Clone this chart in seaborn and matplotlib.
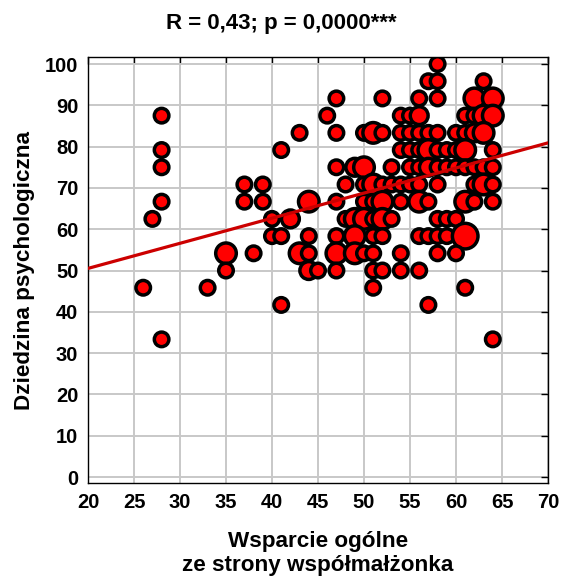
import matplotlib
matplotlib.use("Agg")
import matplotlib.pyplot as plt
import pandas as pd
import seaborn as sns

# Spousal general support (x), psychological domain score (y), number of respondents (n)
support = [
    26, 27, 28, 28, 28, 28, 28, 33, 35, 35, 37, 39, 37, 39, 38, 40, 40, 41, 41, 41,
    42, 43, 43, 44, 44, 44, 44, 45,
    58,
    57, 58, 63,
    47, 52, 56, 58, 62, 64,
    46, 54, 55, 56, 61, 62, 63, 64,
    47, 50, 51, 52, 54, 55, 56, 57, 58, 60, 61, 62, 63,
    54, 55, 56, 57, 58, 59, 60, 61, 64,
    47, 49, 50, 53, 55, 56, 57, 58, 59, 60, 61, 62, 63, 64,
    48, 50, 51, 52, 53, 54, 55, 56, 58, 62, 63, 64,
    47, 50, 51, 52, 54, 56, 57, 61, 62, 64,
    48, 49, 50, 51, 52, 53, 58, 59, 60,
    47, 49, 51, 52, 56, 57, 58, 59, 61,
    47, 49, 50, 51, 54, 58, 60,
    47, 51, 52, 54, 56,
    51, 61,
    57,
    64,
]
domain = [
    45.83, 62.5, 87.5, 79.17, 75, 66.67, 33.33, 45.83, 54.17, 50, 70.83, 70.83, 66.67, 66.67,
    54.17, 62.5, 58.33, 58.33, 79.17, 41.67,
    62.5, 83.33, 54.17, 66.67, 58.33, 54.17, 50, 50,
    100,
    95.83, 95.83, 95.83,
    91.67, 91.67, 91.67, 91.67, 91.67, 91.67,
    87.5, 87.5, 87.5, 87.5, 87.5, 87.5, 87.5, 87.5,
    83.33, 83.33, 83.33, 83.33, 83.33, 83.33, 83.33, 83.33, 83.33, 83.33, 83.33, 83.33, 83.33,
    79.17, 79.17, 79.17, 79.17, 79.17, 79.17, 79.17, 79.17, 79.17,
    75, 75, 75, 75, 75, 75, 75, 75, 75, 75, 75, 75, 75, 75,
    70.83, 70.83, 70.83, 70.83, 70.83, 70.83, 70.83, 70.83, 70.83, 70.83, 70.83, 70.83,
    66.67, 66.67, 66.67, 66.67, 66.67, 66.67, 66.67, 66.67, 66.67, 66.67,
    62.5, 62.5, 62.5, 62.5, 62.5, 62.5, 62.5, 62.5, 62.5,
    58.33, 58.33, 58.33, 58.33, 58.33, 58.33, 58.33, 58.33, 58.33,
    54.17, 54.17, 54.17, 54.17, 54.17, 54.17, 54.17,
    50, 50, 50, 50, 50,
    45.83, 45.83,
    41.67,
    33.33,
]
counts = [
    1, 1, 1, 1, 1, 1, 1, 1, 3, 1, 1, 1, 1, 1, 1, 1, 1, 1, 1, 1,
    2, 1, 3, 3, 1, 1, 2, 1,
    1,
    1, 1, 1,
    1, 1, 1, 1, 3, 3,
    1, 1, 1, 2, 1, 1, 3, 3,
    1, 1, 3, 1, 1, 1, 1, 1, 1, 1, 1, 2, 3,
    1, 1, 1, 3, 1, 1, 1, 3, 1,
    1, 2, 3, 1, 1, 1, 2, 1, 1, 1, 1, 1, 1, 1,
    1, 1, 3, 1, 1, 1, 1, 1, 1, 1, 3, 1,
    1, 1, 1, 3, 1, 3, 1, 3, 1, 1,
    1, 3, 3, 1, 3, 1, 1, 1, 1,
    1, 3, 1, 1, 1, 1, 1, 1, 5,
    3, 3, 1, 1, 1, 1, 1,
    1, 1, 1, 1, 1,
    1, 1,
    1,
    1,
]

# Fitted regression line y = intercept + slope * x
intercept = 38.35
slope = 0.608
x_ticks = list(range(20, 75, 5))
y_ticks = list(range(0, 110, 10))
title = "R = 0,43; p = 0,0000***"
x_label = "Wsparcie ogólne\nze strony współmałżonka"
y_label = "Dziedzina psychologiczna"

df = pd.DataFrame({"support": support, "domain": domain, "n": counts})
line_df = pd.DataFrame({"support": [x_ticks[0], x_ticks[-1]]})
line_df["domain"] = intercept + slope * line_df["support"]

sns.set_style("white")
plt.rcParams["font.family"] = ["Liberation Sans", "DejaVu Sans"]
plt.rcParams["font.weight"] = "bold"

fig = plt.figure(figsize=(5.63, 5.81), dpi=100)
ax = fig.add_axes([88 / 563, 1 - 483 / 581, 460 / 563, 426 / 581])

ax.set_axisbelow(True)
ax.grid(True, color="#c8c8c8", linewidth=1.4)

sns.scatterplot(
    data=df, x="support", y="domain", size="n",
    sizes={1: 110, 2: 165, 3: 220, 5: 340},
    color="#ff0000", edgecolor="black", linewidth=2.5,
    legend=False, ax=ax, zorder=3,
)
sns.lineplot(data=line_df, x="support", y="domain", color="#cc0000",
             linewidth=2.3, ax=ax, zorder=4)

ax.set_xlim(20, 70)
ax.set_ylim(-1.45, 101.7)
ax.set_xticks(x_ticks)
ax.set_yticks(y_ticks)
ax.tick_params(direction="in", top=True, right=True, length=5, width=1,
               color="black", labelsize=14.5, pad=7, labelcolor="black")
for lab in ax.get_xticklabels() + ax.get_yticklabels():
    lab.set_fontweight("bold")
for sp in ax.spines.values():
    sp.set_color("black")
    sp.set_linewidth(1)

ax.set_xlabel(x_label, fontsize=16.2, fontweight="bold", labelpad=14,
              linespacing=1.2, color="black")
ax.set_ylabel(y_label, fontsize=16.2, fontweight="bold", labelpad=7, color="black")
fig.suptitle(title, x=0.5, y=1 - 23 / 581, va="center", fontsize=16,
             fontweight="bold", color="black")

fig.savefig("out.png", dpi=100)
